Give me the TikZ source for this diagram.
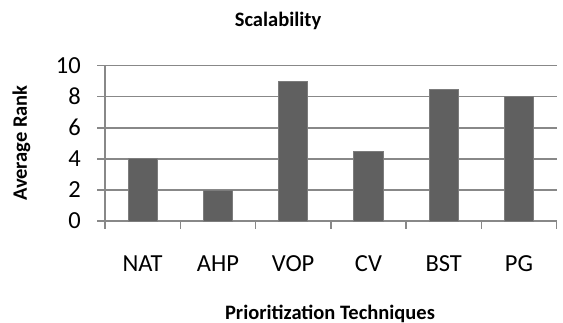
\documentclass[tikz,border=0pt]{standalone}
\usepackage{fontspec}
\setmainfont{Carlito}
\definecolor{gridgray}{HTML}{888888}
\definecolor{barfill}{HTML}{606060}
\definecolor{baredge}{HTML}{7C7C7C}
\begin{document}
\begin{tikzpicture}[x=1pt,y=-1pt,
  gridline/.style={draw=gridgray,line width=1.4pt},
  axisline/.style={draw=gridgray,line width=1.4pt},
  barbox/.style={fill=barfill,draw=baredge,line width=0.8pt},
  ticklab/.style={font=\fontsize{24.5}{28}\selectfont,inner sep=0pt},
  titlelab/.style={font=\fontsize{20.5}{24}\selectfont\bfseries,inner sep=0pt}]
\useasboundingbox (0,0) rectangle (563,323);
% gridlines and y ticks
\foreach \v [count=\i from 0] in {0,2,4,6,8,10}{
  \pgfmathsetmacro{\yy}{221-\v*15.53}
  \draw[gridline] (97,\yy) -- (556.7,\yy);
  \node[ticklab,anchor=base east] (y\i) at (81,\yy+8) {\v};
}
% y axis
\draw[axisline] (105,65.7) -- (105,221);
% x ticks
\foreach \k in {0,...,6}{
  \draw[axisline] (105+\k*75.28,221) -- (105+\k*75.28,229);
}
% bars and category labels
\foreach \val/\lab [count=\k from 0] in {4/NAT,2/AHP,9/VOP,4.5/CV,8.5/BST,8/PG}{
  \pgfmathsetmacro{\cx}{142.6+\k*75.28}
  \pgfmathsetmacro{\top}{221-\val*15.53}
  \draw[barbox] (\cx-14.6,221) rectangle (\cx+14.6,\top);
  \node[ticklab,anchor=base] (c\k) at (\cx,271.5) {\lab};
}
\node[titlelab,anchor=base] (title) at (278,26.5) {Scalability};
\node[titlelab,anchor=base] (xtitle) at (330,319.3) {Prioritization Techniques};
\node[titlelab,anchor=base,rotate=90] (ytitle) at (27,143) {Average Rank};
\end{tikzpicture}
\end{document}
